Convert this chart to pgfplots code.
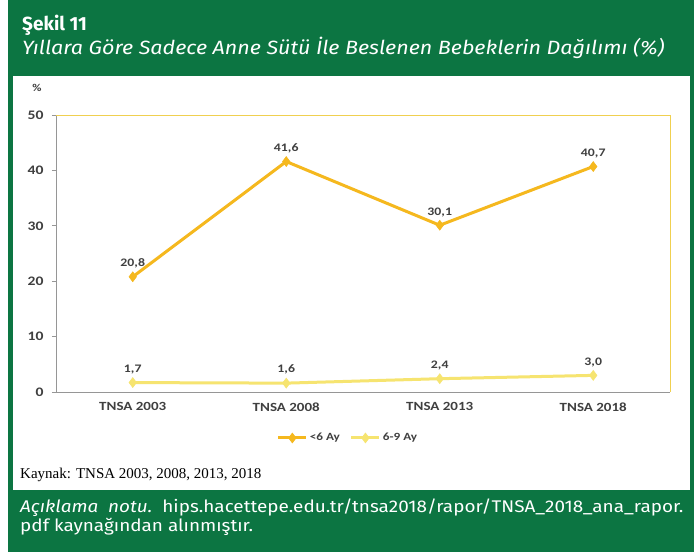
\documentclass[border=0pt]{standalone}
\usepackage{fontspec}
\setmainfont{Carlito}
\newfontfamily\chartfont[FakeStretch=1.2]{Carlito}
\newfontfamily\din{Fira Sans}
\newfontfamily\dinw[FakeStretch=1.12]{Fira Sans}
\newfontfamily\tnr{Liberation Serif}
\usepackage{pgfplots}
\pgfplotsset{compat=1.18}
\definecolor{hgreen}{RGB}{12,117,66}
\definecolor{orng}{RGB}{245,184,30}
\definecolor{lyel}{RGB}{246,228,112}
\definecolor{frameyel}{RGB}{240,208,80}
\definecolor{txt}{RGB}{64,64,64}
\definecolor{axgrey}{RGB}{150,150,150}
\begin{document}
\begin{tikzpicture}[x=1pt,y=1pt]
\useasboundingbox (0pt,0pt) rectangle (694pt,552pt);
\fill[white] (0pt,0pt) rectangle (694pt,552pt);
\fill[hgreen] (8pt,0pt) rectangle (694pt,552pt);
\fill[white] (13pt,62pt) rectangle (690pt,476pt);
\node[anchor=base west, text=white, inner sep=0pt, font=\din\bfseries\fontsize{19}{22}\selectfont] at (22pt,521pt) {Şekil 11};
\node[anchor=base west, text=white, inner sep=0pt, font=\dinw\itshape\fontsize{19.2}{22}\selectfont] at (22pt,497pt) {Yıllara Göre Sadece Anne Sütü İle Beslenen Bebeklerin Dağılımı (\%)};
\node[anchor=base west, text=black, inner sep=0pt, font=\tnr\fontsize{15}{18}\selectfont] at (20pt,73pt) {Kaynak: TNSA 2003, 2008, 2013, 2018};
\node[anchor=base west, text=white, inner sep=0pt, font=\dinw\fontsize{16.9}{20}\selectfont] at (20pt,39pt) {\textit{Açıklama\ \ notu.}\ \ hips.hacettepe.edu.tr/tnsa2018/rapor/TNSA\_2018\_ana\_rapor.};
\node[anchor=base west, text=white, inner sep=0pt, font=\dinw\fontsize{16.9}{20}\selectfont] at (20pt,20pt) {pdf kaynağından alınmıştır.};
\node[anchor=base, text=txt, inner sep=0pt, font=\chartfont\bfseries\fontsize{10.5}{12}\selectfont] at (37pt,460pt) {\%};
\begin{axis}[
  at={(56pt,160pt)}, anchor=south west,
  scale only axis, width=614pt, height=277pt,
  xmin=-0.5, xmax=3.5, ymin=0, ymax=50,
  xtick={0,1,2,3},
  xticklabels={TNSA 2003,TNSA 2008,TNSA 2013,TNSA 2018},
  x tick style={draw=none},
  extra x ticks={-0.5,0.5,1.5,2.5,3.5},
  extra x tick labels={},
  extra x tick style={major tick style={draw=axgrey, line width=0.8pt}, major tick length=5pt, tick align=outside},
  ytick={0,10,20,30,40,50},
  ytick pos=left, xtick pos=bottom,
  tick align=outside, major tick length=4pt,
  y tick style={draw=axgrey, line width=0.8pt},
  axis line style={draw=none},
  /pgf/number format/assume math mode=true,
  xticklabel style={font=\chartfont\bfseries\fontsize{12.5}{14}\selectfont, text=txt, yshift=-3pt},
  yticklabel style={font=\chartfont\bfseries\fontsize{13}{15}\selectfont, text=txt, xshift=-5pt},
  legend style={at={(0.4756,-0.166)}, anchor=center, draw=none, fill=none, legend columns=2,
    font=\chartfont\bfseries\fontsize{11}{12}\selectfont, text=txt,
    /tikz/every even column/.append style={column sep=8pt}},
  legend image code/.code={\draw[mark repeat=2,mark phase=2,#1] plot coordinates {(0pt,0pt) (14pt,0pt) (28pt,0pt)};},
  nodes near coords={\pgfmathprintnumber[fixed,fixed zerofill,precision=1,use comma,assume math mode=true]{\pgfplotspointmeta}},
  every node near coord/.append style={font=\chartfont\bfseries\fontsize{11.5}{13}\selectfont, text=txt, anchor=south, yshift=5pt},
  clip=false,
]
\addplot[color=orng, line width=3pt, mark=diamond*, mark size=5pt, mark options={fill=orng, draw=orng, line width=0.5pt}]
  coordinates {(0,20.8) (1,41.6) (2,30.1) (3,40.7)};
\addlegendentry{<6 Ay}
\addplot[color=lyel, line width=3pt, mark=diamond*, mark size=5pt, mark options={fill=lyel, draw=lyel, line width=0.5pt}]
  coordinates {(0,1.7) (1,1.6) (2,2.4) (3,3.0)};
\addlegendentry{6-9 Ay}
\draw[axgrey, line width=0.8pt] (rel axis cs:0,1) -- (rel axis cs:0,0) -- (rel axis cs:1,0);
\draw[frameyel, line width=1pt] (rel axis cs:0,1) -- (rel axis cs:1,1) -- (rel axis cs:1,0);
\end{axis}
\end{tikzpicture}
\end{document}
